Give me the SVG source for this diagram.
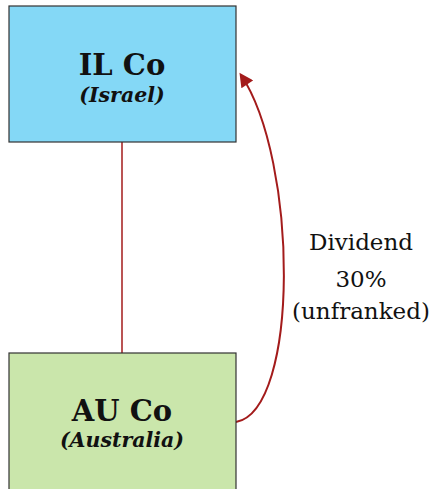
<svg xmlns="http://www.w3.org/2000/svg" width="435" height="489" viewBox="0 0 435 489">
<style>
.box{stroke:#333;stroke-width:1.2}
.t{font-family:"DejaVu Serif","Liberation Serif",serif;text-anchor:middle;fill:#111}
.name{font-size:29px;font-weight:bold}
.sub{font-size:20.5px;font-weight:bold;font-style:italic}
.lbl{font-family:"DejaVu Serif","Liberation Serif",serif;font-size:23px;text-anchor:middle;fill:#111}
.conn{fill:none;stroke:#a31b1b;stroke-width:2}
</style>
<defs>
<marker id="ah" viewBox="0 0 10 10" refX="8" refY="5" markerWidth="16" markerHeight="14" orient="auto" markerUnits="userSpaceOnUse">
<path d="M0,0 L10,5 L0,10 z" fill="#a31b1b"/>
</marker>
</defs>
<rect width="435" height="489" fill="#fff"/>
<g id="connectors">
<line class="conn" x1="122" y1="142" x2="122" y2="353" style="stroke-width:1.5"/>
<path class="conn" d="M236,422 C300,410 298,160 241,75" marker-end="url(#ah)"/>
</g>
<g id="il-co">
<rect class="box" x="9" y="6" width="227" height="136" fill="#84d8f6"/>
<text class="t name" x="122" y="75">IL Co</text>
<text class="t sub" x="122" y="102">(Israel)</text>
</g>
<g id="au-co">
<rect class="box" x="9" y="353" width="227" height="140" fill="#cae6ab"/>
<text class="t name" x="122" y="421">AU Co</text>
<text class="t sub" x="122" y="447">(Australia)</text>
</g>
<g id="label">
<text class="lbl" x="361" y="250">Dividend</text>
<text class="lbl" x="361" y="287">30%</text>
<text class="lbl" x="361" y="319">(unfranked)</text>
</g>
</svg>
